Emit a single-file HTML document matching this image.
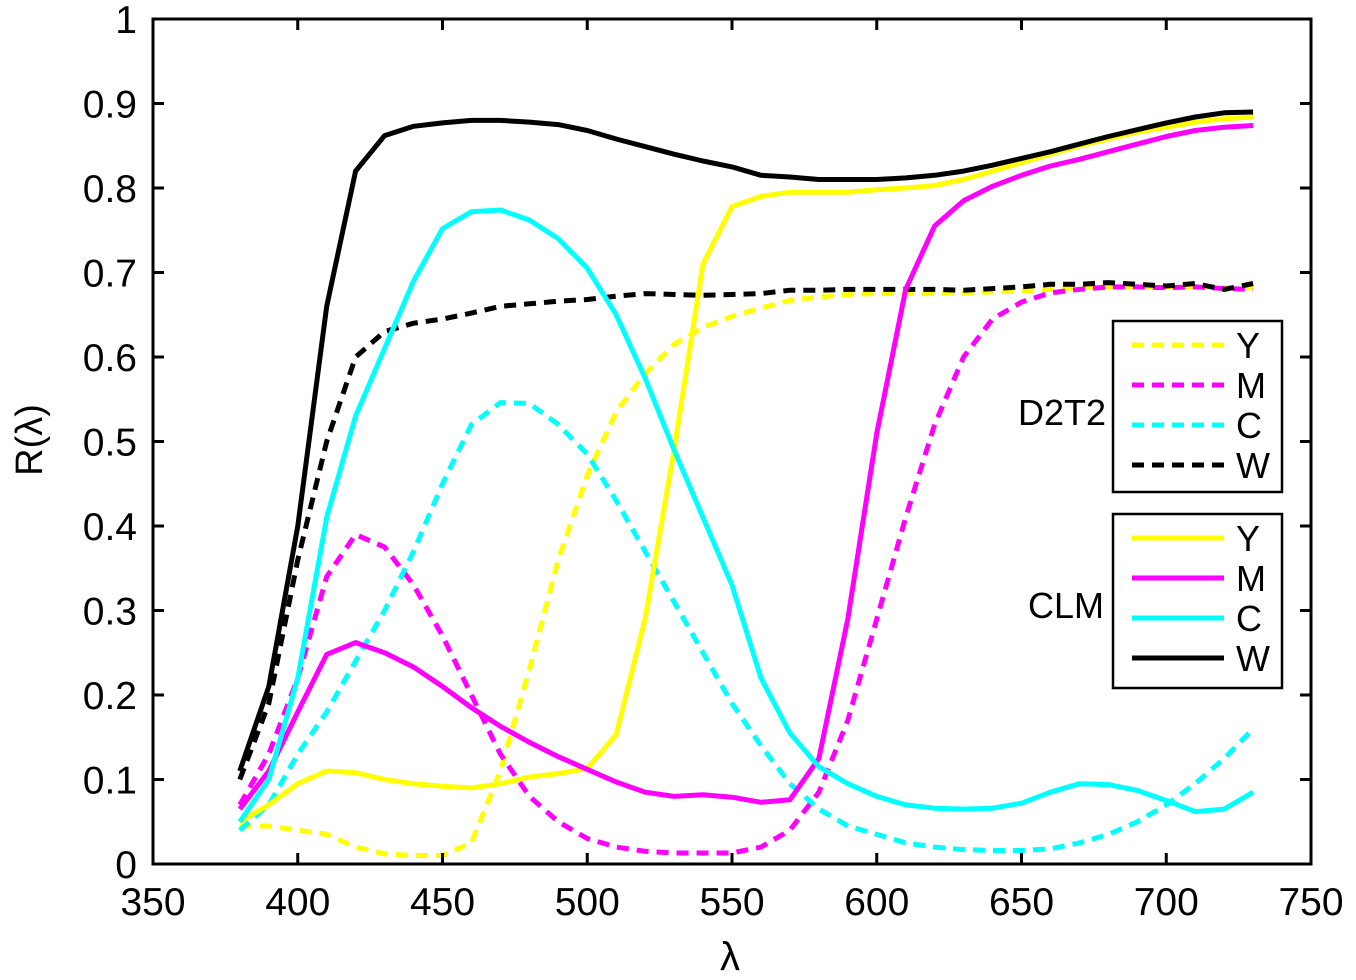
<!DOCTYPE html>
<html><head><style>
body{margin:0;background:#fff}
svg text{font-family:"Liberation Sans",sans-serif;fill:#000}
</style></head><body>
<svg id="s" width="1356" height="975" xmlns="http://www.w3.org/2000/svg">
<g id="curves" fill="none" stroke-width="5" stroke-linejoin="round"></g>
<rect x="153" y="19" width="1158" height="845" fill="none" stroke="#000" stroke-width="3"/>
<g id="ticks" stroke="#000" stroke-width="3"></g>
<g id="labels" font-size="39"></g>
<text x="730" y="970" font-size="40" text-anchor="middle">λ</text>
<text transform="translate(42,440) rotate(-90)" font-size="38" text-anchor="middle">R(λ)</text>
<rect x="1113" y="321" width="169" height="171" fill="#fff" stroke="#000" stroke-width="2.5"/>
<rect x="1113" y="514" width="169" height="174" fill="#fff" stroke="#000" stroke-width="2.5"/>
<g id="leg" stroke-width="5"></g>
<text x="1106" y="425" font-size="36" text-anchor="end">D2T2</text>
<text x="1104" y="618" font-size="36" text-anchor="end">CLM</text>
</svg>
<script>
const X=n=>153+(n-350)*2.895, Y=v=>864-v*845;
const D={
kS:[.11,.21,.40,.66,.82,.862,.873,.877,.88,.88,.878,.875,.868,.858,.849,.84,.832,.825,.815,.813,.81,.81,.81,.812,.815,.82,.827,.835,.843,.852,.861,.869,.877,.884,.889,.89],
yS:[.05,.07,.095,.11,.108,.1,.095,.092,.09,.095,.103,.107,.113,.153,.29,.49,.71,.778,.79,.795,.795,.795,.798,.8,.803,.81,.82,.83,.84,.85,.858,.866,.872,.878,.882,.884],
mS:[.065,.11,.18,.248,.262,.25,.233,.21,.185,.163,.144,.127,.112,.097,.085,.08,.082,.079,.073,.076,.125,.29,.51,.68,.755,.785,.802,.815,.826,.834,.843,.852,.861,.868,.872,.874],
cS:[.05,.1,.22,.41,.53,.61,.69,.752,.772,.774,.762,.74,.705,.65,.575,.49,.41,.33,.22,.155,.115,.095,.08,.07,.066,.065,.066,.072,.085,.095,.094,.087,.075,.062,.065,.085],
kD:[.1,.19,.36,.5,.6,.63,.64,.645,.652,.66,.663,.666,.668,.672,.675,.674,.673,.674,.675,.679,.679,.68,.68,.68,.68,.679,.681,.683,.686,.686,.688,.686,.684,.687,.68,.687],
yD:[.045,.045,.04,.035,.02,.012,.01,.01,.025,.11,.23,.36,.46,.535,.58,.615,.635,.648,.658,.667,.671,.674,.675,.675,.675,.676,.677,.678,.68,.682,.683,.683,.683,.683,.682,.682],
mD:[.07,.13,.22,.34,.39,.375,.33,.27,.2,.13,.08,.05,.03,.02,.015,.013,.013,.013,.02,.04,.085,.17,.29,.41,.52,.6,.645,.665,.676,.68,.683,.683,.682,.683,.681,.68],
cD:[.04,.07,.13,.18,.24,.3,.37,.45,.52,.546,.545,.52,.485,.43,.37,.31,.25,.19,.14,.095,.065,.045,.035,.025,.02,.017,.016,.016,.018,.025,.035,.05,.07,.095,.125,.16]};
const col={k:"#000",y:"#ffff00",m:"#ff00ff",c:"#00ffff"};
const ns="http://www.w3.org/2000/svg";
const g=document.getElementById("curves");
["yD","mD","cD","kD","yS","mS","cS","kS"].forEach(k=>{
 const p=document.createElementNS(ns,"polyline");
 p.setAttribute("points",D[k].map((v,i)=>X(380+10*i).toFixed(1)+","+Y(v).toFixed(1)).join(" "));
 p.setAttribute("stroke",col[k[0]]);
 if(k[1]=="D")p.setAttribute("stroke-dasharray","12 8");
 g.appendChild(p);});
let t="",l="";
for(let n=350;n<=750;n+=50){const x=X(n);t+=`<line x1="${x}" y1="864" x2="${x}" y2="853"/><line x1="${x}" y1="19" x2="${x}" y2="30"/>`;l+=`<text x="${x}" y="915" text-anchor="middle">${n}</text>`;}
for(let i=0;i<=10;i++){const v=i/10,y=Y(v);t+=`<line x1="153" y1="${y}" x2="164" y2="${y}"/><line x1="1311" y1="${y}" x2="1300" y2="${y}"/>`;l+=`<text x="137" y="${y+14}" text-anchor="end">${i==0?"0":i==10?"1":v.toFixed(1)}</text>`;}
document.getElementById("ticks").innerHTML=t;document.getElementById("labels").innerHTML=l;
let lg="";const names=["Y","M","C","W"],cs=["#ffff00","#ff00ff","#00ffff","#000"];
[[345,true],[538,false]].forEach(([y0,d])=>names.forEach((nm,i)=>{const y=y0+i*40;
lg+=`<line x1="1132" y1="${y}" x2="1224" y2="${y}" stroke="${cs[i]}" ${d?'stroke-dasharray="12 8"':''}/><text x="1236" y="${y+13}" font-size="36" stroke="none">${nm}</text>`;}));
document.getElementById("leg").innerHTML=lg;
</script>
</body></html>
